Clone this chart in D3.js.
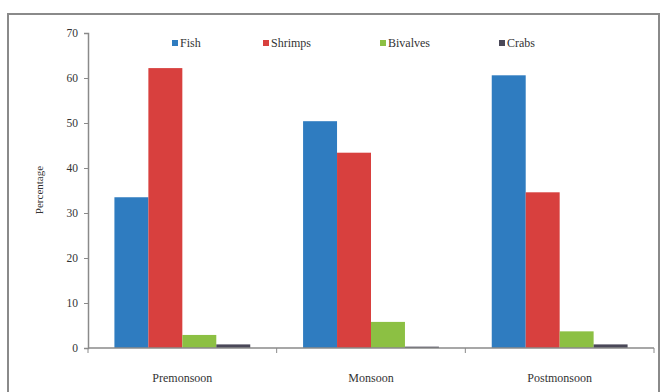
<!DOCTYPE html>
<html>
<head>
<meta charset="utf-8">
<script src="https://cdn.jsdelivr.net/npm/d3@7"></script>
<style>
  html, body { margin: 0; padding: 0; background: #fff; }
  svg { display: block; font-family: "Liberation Serif", "Times New Roman", serif; }
</style>
</head>
<body>
<svg id="chart" width="663" height="392"></svg>
<script>
// Seasonal diet composition (percentage)
const seasons = ["Premonsoon", "Monsoon", "Postmonsoon"];
const groups = ["Fish", "Shrimps", "Bivalves", "Crabs"];
const fish = [33.5, 50.4, 60.6];
const shrimps = [62.2, 43.4, 34.6];
const bivalves = [2.9, 5.8, 3.7];
const crabs = [0.8, 0.3, 0.8];
const yTicks = [0, 10, 20, 30, 40, 50, 60, 70];
const colors = ["#2f7cc0", "#d8403e", "#8cc043", "#4a4858"];

const seriesValues = [fish, shrimps, bivalves, crabs];
const rows = seasons.map((s, i) => ({
  season: s,
  values: groups.map((g, j) => ({ group: g, value: seriesValues[j][i] }))
}));

const svg = d3.select("#chart");

// outer frame
svg.append("rect")
  .attr("x", 8).attr("y", 14).attr("width", 651).attr("height", 390)
  .attr("fill", "none").attr("stroke", "#8a8a8a").attr("stroke-width", 2);

const plot = { left: 88, right: 654, top: 33, bottom: 348 };

const x0 = d3.scaleBand().domain(seasons).range([plot.left, plot.right]).paddingInner(0.28).paddingOuter(0.14);
const x1 = d3.scaleBand().domain(groups).range([0, x0.bandwidth()]);
const y = d3.scaleLinear().domain([0, 70]).range([plot.bottom, plot.top]);

// bars
const g = svg.append("g");
g.selectAll("g.season").data(rows).join("g")
  .attr("class", "season")
  .attr("transform", d => `translate(${x0(d.season)},0)`)
  .selectAll("rect").data(d => d.values).join("rect")
  .attr("x", d => x1(d.group))
  .attr("y", d => y(d.value))
  .attr("width", x1.bandwidth())
  .attr("height", d => y(0) - y(d.value))
  .attr("fill", (d, i) => colors[i]);

// y axis
const yAxis = svg.append("g")
  .attr("transform", `translate(${plot.left},0)`)
  .call(d3.axisLeft(y).tickValues(yTicks).tickSize(4).tickPadding(6));
yAxis.select(".domain").attr("stroke", "#8a8a8a").attr("stroke-width", 1.5);
yAxis.selectAll(".tick line").attr("stroke", "#8a8a8a");
yAxis.selectAll(".tick text").attr("font-size", 11.5).attr("fill", "#333")
  .attr("font-family", "Liberation Serif, serif");

// x axis with boundary ticks between seasons
const xLine = svg.append("g");
xLine.append("line")
  .attr("x1", plot.left).attr("x2", plot.right)
  .attr("y1", y(0)).attr("y2", y(0))
  .attr("stroke", "#8a8a8a").attr("stroke-width", 1.5);
const step = (plot.right - plot.left) / seasons.length;
d3.range(seasons.length + 1).forEach(i => {
  xLine.append("line")
    .attr("x1", plot.left + step * i).attr("x2", plot.left + step * i)
    .attr("y1", y(0)).attr("y2", y(0) + 5)
    .attr("stroke", "#8a8a8a").attr("stroke-width", 1);
});

svg.append("g").selectAll("text").data(seasons).join("text")
  .attr("x", d => plot.left + step * (seasons.indexOf(d) + 0.5))
  .attr("y", 382)
  .attr("text-anchor", "middle")
  .attr("font-size", 12)
  .attr("fill", "#333")
  .text(d => d);

// y axis title
svg.append("text")
  .attr("transform", `translate(43,190) rotate(-90)`)
  .attr("text-anchor", "middle")
  .attr("font-size", 11)
  .attr("fill", "#333")
  .text("Percentage");

// legend
const legendX = [172, 263, 380, 499];
const legend = svg.append("g").selectAll("g").data(groups).join("g")
  .attr("transform", (d, i) => `translate(${legendX[i]},44)`);
legend.append("rect")
  .attr("x", 0).attr("y", -4).attr("width", 6).attr("height", 6)
  .attr("fill", (d, i) => colors[i]);
legend.append("text")
  .attr("x", 8).attr("y", 3)
  .attr("font-size", 12)
  .attr("fill", "#333")
  .text(d => d);
</script>
</body>
</html>
